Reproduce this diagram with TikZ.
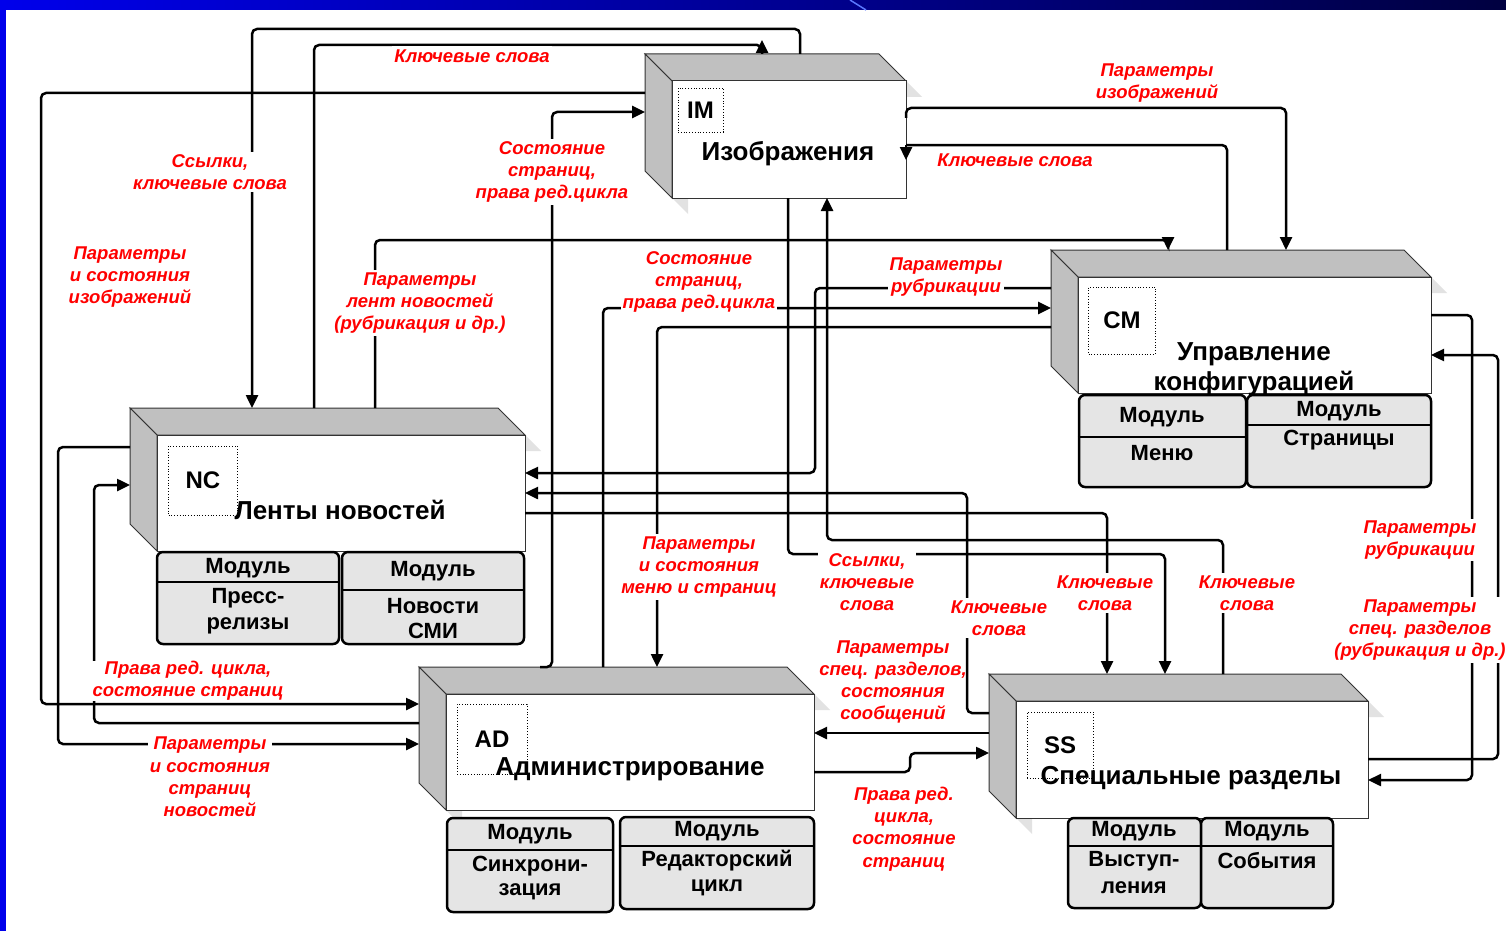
\documentclass[tikz,border=0pt]{standalone}
\usepackage{fontspec}
\setmainfont{Liberation Sans}
\usepackage{tikz}
\usetikzlibrary{arrows.meta,calc}
\definecolor{sidegray}{RGB}{192,192,192}
\definecolor{modgray}{RGB}{229,229,229}
\definecolor{shadegray}{RGB}{226,226,226}
\definecolor{labelred}{RGB}{255,0,0}
\definecolor{barblue}{RGB}{0,0,235}
\definecolor{barnavy}{RGB}{0,0,64}
\definecolor{streak}{RGB}{90,120,255}
\newcommand{\sysbox}[1]{
  \fill[shadegray] ($(#1.north east)+(0,27)$) -- ++(16,16) -- ++(-16,0) -- cycle;
  \fill[shadegray] ($(#1.south west)+(27,0)$) -- ++(16,16) -- ++(0,-16) -- cycle;
  \filldraw[fill=sidegray,draw=black!80,line width=1pt] (#1.north west) -- ($(#1.north east)+(-27,0)$)
    -- ($(#1.north east)+(0,27)$) -- ($(#1.north west)+(27,27)$) -- cycle;
  \filldraw[fill=sidegray,draw=black!80,line width=1pt] (#1.north west) -- ($(#1.north west)+(27,27)$)
    -- ($(#1.south west)+(27,0)$) -- ($(#1.south west)+(0,-27)$) -- cycle;
  \filldraw[fill=white,draw=black!80,line width=1pt] ($(#1.north west)+(27,27)$) rectangle (#1.south east);
}
\newcommand{\modsplit}[2]{
  \draw[line width=2.5pt] (#1.west |- 0,#2) -- (#1.east |- 0,#2);
}

\begin{document}
\begin{tikzpicture}[x=1pt,y=-1pt,
  conn/.style={line width=2.5pt,rounded corners=5pt},
  arr/.style={conn,-{Triangle[length=13pt,width=12pt]}}]
\tikzstyle{cubebox}=[inner sep=0pt,outer sep=0pt]
\tikzstyle{boxtitle}=[font=\fontsize{26}{30}\selectfont\bfseries,align=center,inner sep=0pt]
\tikzstyle{boxcode}=[draw,dotted,line width=0.8pt,font=\fontsize{24}{30}\selectfont\bfseries,inner sep=0pt]
\tikzstyle{module}=[draw,line width=2.5pt,rounded corners=6pt,fill=modgray,inner sep=0pt]
\tikzstyle{modtext}=[font=\fontsize{22}{26}\selectfont\bfseries,inner sep=0pt]
\tikzstyle{lbl}=[text=labelred,font=\fontsize{18.5}{22.3}\selectfont\bfseries\itshape,align=center,inner sep=1pt]
\tikzstyle{lblcut}=[lbl,fill=white,inner xsep=2pt,inner ysep=2pt]

\useasboundingbox (0,0) rectangle (1506,931);
\fill[white] (0,0) rectangle (1506,931);
\shade[left color=barblue,right color=barnavy] (0,0) rectangle (1506,10);
\fill[barblue] (0,0) rectangle (6,931);
\draw[streak,line width=1.5pt] (850,0) -- (866,10);

% boxes
\node[cubebox,minimum width=261,minimum height=144] (im) at (775.5,126) {};
\node[cubebox,minimum width=380,minimum height=143] (cm) at (1241,321.5) {};
\node[cubebox,minimum width=395,minimum height=143] (nc) at (327.5,479.5) {};
\node[cubebox,minimum width=395,minimum height=143] (ad) at (616.5,738.5) {};
\node[cubebox,minimum width=379,minimum height=144] (ss) at (1178.5,746) {};
\foreach \b in {im,cm,nc,ad,ss} {\sysbox{\b}}

% modules
\node[module,minimum width=182,minimum height=92] (nc-m1) at (248,598) {};
\node[module,minimum width=182,minimum height=92] (nc-m2) at (433,598) {};
\node[module,minimum width=167,minimum height=92] (cm-m1) at (1162.5,441) {};
\node[module,minimum width=184,minimum height=92] (cm-m2) at (1339,441) {};
\node[module,minimum width=166,minimum height=94] (ad-m1) at (530,865) {};
\node[module,minimum width=194,minimum height=92] (ad-m2) at (717,863) {};
\node[module,minimum width=133,minimum height=90] (ss-m1) at (1134.5,863) {};
\node[module,minimum width=132,minimum height=90] (ss-m2) at (1267,863) {};
\modsplit{nc-m1}{582}
\modsplit{nc-m2}{590}
\modsplit{cm-m1}{437}
\modsplit{cm-m2}{425}
\modsplit{ad-m1}{850}
\modsplit{ad-m2}{846}
\modsplit{ss-m1}{846}
\modsplit{ss-m2}{846}

\node[modtext] (nc-m1-a) at (248,568) {Модуль};
\node[modtext] (nc-m1-b) at (248,598) {Пресс-};
\node[modtext] (nc-m1-c) at (248,626) {релизы};
\node[modtext] (nc-m2-a) at (433,571) {Модуль};
\node[modtext] (nc-m2-b) at (433,606) {Новости};
\node[modtext] (nc-m2-c) at (433,631) {СМИ};
\node[modtext] (cm-m1-a) at (1162,417) {Модуль};
\node[modtext] (cm-m1-b) at (1162,453) {Меню};
\node[modtext] (cm-m2-a) at (1339,411) {Модуль};
\node[modtext] (cm-m2-b) at (1339,440) {Страницы};
\node[modtext] (ad-m1-a) at (530,834) {Модуль};
\node[modtext] (ad-m1-b) at (530,866) {Синхрони-};
\node[modtext] (ad-m1-c) at (530,892) {зация};
\node[modtext] (ad-m2-a) at (717,831) {Модуль};
\node[modtext] (ad-m2-b) at (717,861) {Редакторский};
\node[modtext] (ad-m2-c) at (717,888) {цикл};
\node[modtext] (ss-m1-a) at (1134,831) {Модуль};
\node[modtext] (ss-m1-b) at (1134,861) {Выступ-};
\node[modtext] (ss-m1-c) at (1134,888) {ления};
\node[modtext] (ss-m2-a) at (1267,831) {Модуль};
\node[modtext] (ss-m2-b) at (1267,861) {События};

% codes and titles
\node[boxcode,minimum width=45,minimum height=44] (im-code) at (700.5,110) {IM};
\node[boxcode,minimum size=67] (cm-code) at (1122,320.5) {CM};
\node[boxcode,minimum size=69] (nc-code) at (203,480.5) {NC};
\node[boxcode,minimum size=70] (ad-code) at (492,739) {AD};
\node[boxcode,minimum size=66] (ss-code) at (1060,745) {SS};
\node[boxtitle] (im-title) at (788,154) {Изображения};
\node[boxtitle] (cm-title) at (1254,369) {Управление\\конфигурацией};
\node[boxtitle] (nc-title) at (340,510) {Ленты новостей};
\node[boxtitle] (ad-title) at (630,769) {Администрирование};
\node[boxtitle] (ss-title) at (1191,778) {Специальные разделы};

% connectors
\draw[arr] (im.north -| 800,0) |- (252,29) -- (nc.north -| 252,0);
\draw[conn] (nc.north -| 314,0) |- (762,45) -- (im.north -| 762,0);
\draw[arr] (im.north -| 762,0) -- ++(0,-14);
\draw[arr] (im.east |- 0,118) |- (1286,108) -- (cm.north -| 1286,0);
\draw[conn] (cm.north -| 1227,0) |- (im.east |- 0,145);
\draw[arr] (im.east |- 0,145) -- ++(0,15);
\draw[arr] (im.west |- 0,93) -| (41,704) -- (ad.west |- 0,704);
\draw[arr] (ad.north -| 540,0) -| (552,112) -- (im.west |- 0,112);
\draw[arr] (ad.north -| 603,0) |- (cm.west |- 0,308);
\draw[arr] (cm.west |- 0,327) -| (ad.north -| 657,0);
\draw[arr] (cm.west |- 0,288) -| (815,473) -- (nc.east |- 0,473);
\draw[arr] (nc.north -| 375,0) |- (1168,240) -- (cm.north -| 1168,0);
\draw[arr] (ss.north -| 1223,0) |- (827,540) -- (im.south -| 827,0);
\draw[arr] (im.south -| 788,0) |- (1165,554) -- (ss.north -| 1165,0);
\draw[arr] (ss.west |- 0,713) -| (967,493) -- (nc.east |- 0,493);
\draw[arr] (nc.east |- 0,513) -| (ss.north -| 1107,0);
\draw[arr] (nc.west |- 0,447) -| (58,744) -- (ad.west |- 0,744);
\draw[arr] (ad.west |- 0,723) -| (94,485) -- (nc.west |- 0,485);
\draw[arr] (ss.west |- 0,733) -- (ad.east |- 0,733);
\draw[arr] (ad.east |- 0,772) -| (910,753) -- (ss.west |- 0,753);
\draw[arr] (cm.east |- 0,315) -| (1472,780) -- (ss.east |- 0,780);
\draw[arr] (ss.east |- 0,759) -| (1498,355) -- (cm.east |- 0,355);

% labels
\node[lblcut,inner ysep=4pt] (l-kw1) at (472,56) {Ключевые слова};
\node[lblcut] (l-links1) at (210,172) {Ссылки,\\ключевые слова};
\node[lbl] (l-imgstate) at (130,277) {Параметры\\и состояния\\изображений};
\node[lblcut] (l-state1) at (552,172) {Состояние\\страниц,\\права ред.цикла};
\node[lblcut] (l-feeds) at (420,303) {Параметры\\лент новостей\\(рубрикация и др.)};
\node[lblcut] (l-state2) at (699,282) {Состояние\\страниц,\\права ред.цикла};
\node[lblcut] (l-rub1) at (946,277) {Параметры\\рубрикации};
\node[lbl] (l-imgpar) at (1157,83) {Параметры\\изображений};
\node[lbl] (l-kw2) at (1015,160) {Ключевые слова};
\node[lblcut] (l-menu) at (699,567) {Параметры\\и состояния\\меню и страниц};
\node[lblcut] (l-links2) at (867,582) {Ссылки,\\ключевые\\слова};
\node[lblcut] (l-kw3) at (999,618) {Ключевые\\слова};
\node[lblcut] (l-kw4) at (1105,593) {Ключевые\\слова};
\node[lblcut] (l-kw5) at (1247,593) {Ключевые\\слова};
\node[lblcut] (l-rub2) at (1420,540) {Параметры\\рубрикации};
\node[lblcut] (l-spec1) at (1420,630) {Параметры\\спец. разделов\\(рубрикация и др.)};
\node[lbl] (l-spec2) at (893,682) {Параметры\\спец. разделов,\\состояния\\сообщений};
\node[lblcut,inner ysep=0.5pt] (l-rights1) at (188,681) {Права ред. цикла,\\состояние страниц};
\node[lblcut] (l-news) at (210,777) {Параметры\\и состояния\\страниц\\новостей};
\node[lbl] (l-rights2) at (904,829) {Права ред.\\цикла,\\состояние\\страниц};
\end{tikzpicture}
\end{document}
